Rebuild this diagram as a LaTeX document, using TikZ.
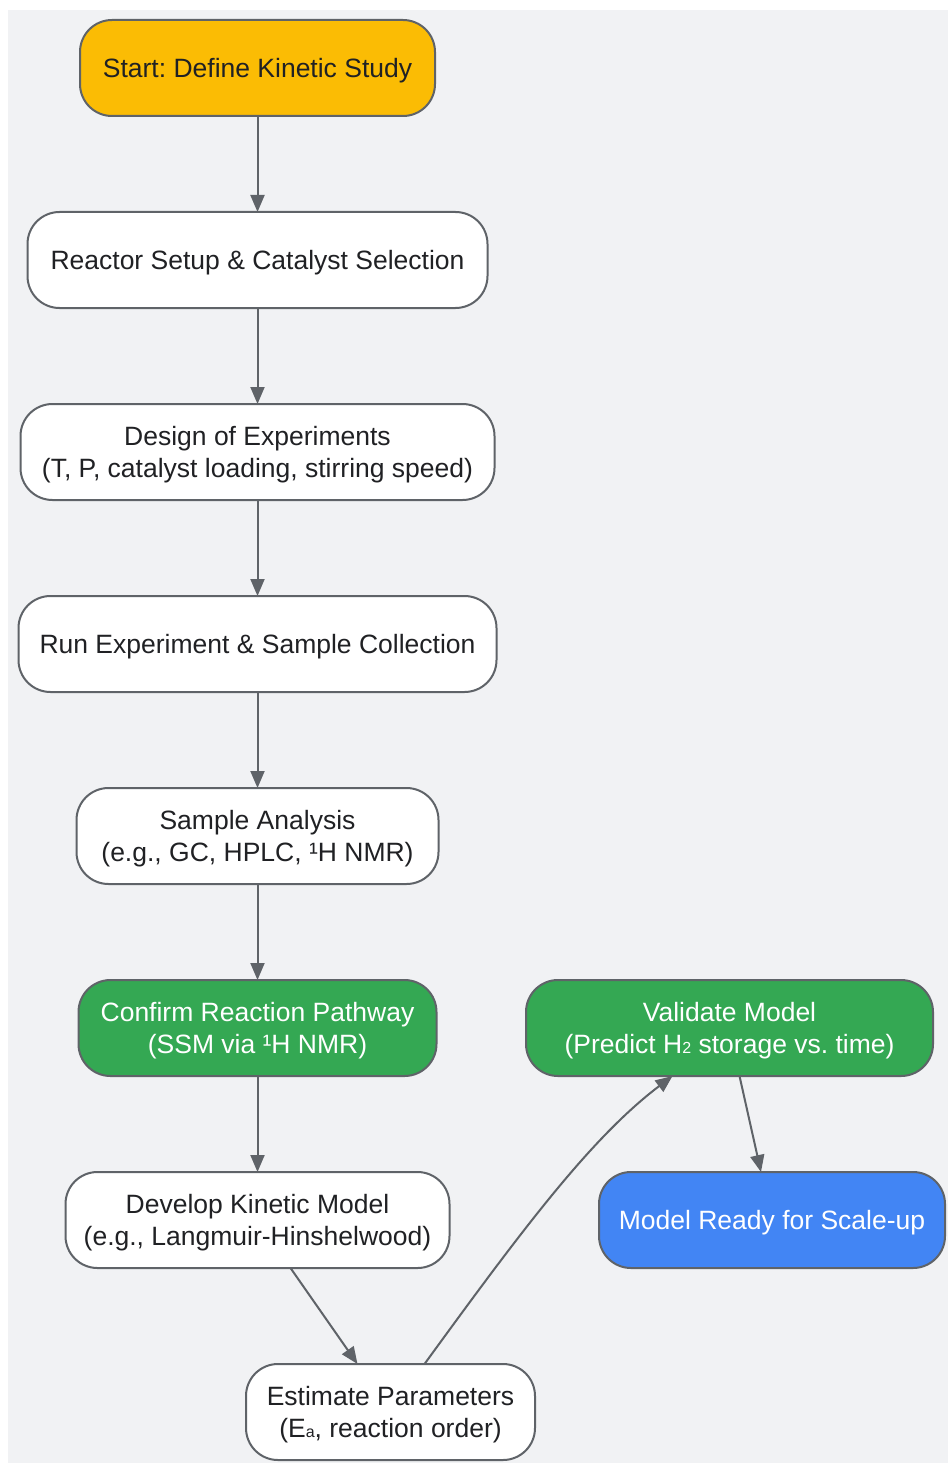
\documentclass[tikz,border=0pt]{standalone}
\usepackage{fontspec}
\setmainfont{Liberation Sans}
\usetikzlibrary{
  positioning,
  arrows.meta}
\definecolor{bgcolor}{RGB}{241,242,244}
\definecolor{linecolor}{RGB}{95,99,104}
\definecolor{textcolor}{RGB}{32,33,36}
\definecolor{startcolor}{RGB}{251,188,4}
\definecolor{checkcolor}{RGB}{52,168,83}
\definecolor{donecolor}{RGB}{66,133,244}
%% small index sitting on the baseline
\newcommand\lowidx[1]{{\fontsize{16}{16}\selectfont #1}}
\tikzset{
  %% stepbox : an ordinary step of the study
  stepbox/.style={
    rectangle,
    rounded corners=32pt,
    draw=linecolor,
    line width=2pt,
    fill=white,
    text=textcolor,
    minimum height=96pt,
    text depth=-2.5pt,
    inner sep=0pt,
    outer sep=0pt,
    align=center,
    font=\fontsize{26.5}{32}\selectfont
  },
  %% startbox : the starting step
  startbox/.style={
    stepbox,
    fill=startcolor
  },
  %% checkbox : a confirmation / validation step
  checkbox/.style={
    stepbox,
    fill=checkcolor,
    text=white
  },
  %% donebox : the final result
  donebox/.style={
    stepbox,
    fill=donecolor,
    text=white
  },
  %% flow : connection between steps
  flow/.style={
    draw=linecolor,
    line width=2pt,
    -{Triangle[length=17pt,width=14pt]}
  }
}

\begin{document}
\frenchspacing
\begin{tikzpicture}
  [x=1pt,
  y=-1pt,
  node distance=96pt]

  %% background
  \useasboundingbox (0,0) rectangle (948,1463);
  \fill [bgcolor] (8,10) rectangle (948,1463);

  %% main column
  \node (start) [startbox, minimum width=355pt] at (257.5,68) {%
    Start: Define Kinetic Study};

  \node (setup) [below=of start, stepbox, minimum width=460pt] {%
    Reactor Setup \& Catalyst Selection};

  \node (design) [below=of setup, stepbox, minimum width=474pt] {%
    Design of Experiments\\
    (T, P, catalyst loading, stirring speed)};

  \node (run) [below=of design, stepbox, minimum width=478pt] {%
    Run Experiment \& Sample Collection};

  \node (analysis) [below=of run, stepbox, minimum width=362pt] {%
    Sample Analysis\\
    (e.g., GC, HPLC, ¹H NMR)};

  \node (pathway) [below=of analysis, checkbox, minimum width=358pt] {%
    Confirm Reaction Pathway\\
    (SSM via ¹H NMR)};

  \node (model) [below=of pathway, stepbox, minimum width=384pt] {%
    Develop Kinetic Model\\
    (e.g., Langmuir-Hinshelwood)};

  %% right part
  \node (estimate) [stepbox, minimum width=289pt] at (390.5,1412) {%
    Estimate Parameters\\
    (E\lowidx{a}, reaction order)};

  \node (validate) [checkbox, minimum width=407pt] at (729.5,1028) {%
    Validate Model\\
    (Predict H\lowidx{2} storage vs. time)};

  \node (ready) [donebox, minimum width=346pt] at (772,1220) {%
    Model Ready for Scale-up};

  %% Connections
  \draw [flow] (start) -- (setup);
  \draw [flow] (setup) -- (design);
  \draw [flow] (design) -- (run);
  \draw [flow] (run) -- (analysis);
  \draw [flow] (analysis) -- (pathway);
  \draw [flow] (pathway) -- (model);
  \draw [flow] ([xshift=33pt]model.south) -- ([xshift=-33pt]estimate.north);
  \draw [flow] ([xshift=34pt]estimate.north)
    .. controls +(96,-132) and +(-82,62) .. ([xshift=-57pt]validate.south);
  \draw [flow] ([xshift=10pt]validate.south) -- ([xshift=-11pt]ready.north);

\end{tikzpicture}
\end{document}
